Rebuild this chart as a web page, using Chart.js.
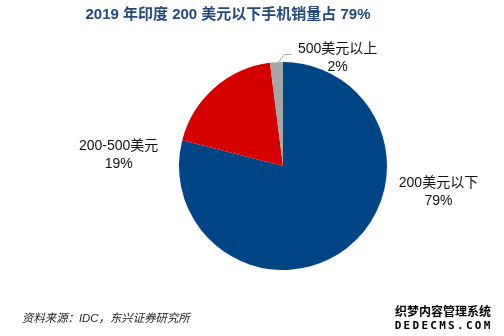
<!DOCTYPE html>
<html>
<head>
<meta charset="utf-8">
<script src="https://cdn.jsdelivr.net/npm/chart.js@4"></script>
<style>
html,body{margin:0;padding:0;background:#fff;}
#wrap{width:504px;height:336px;position:relative;}
canvas{display:block;}
</style>
</head>
<body>
<div id="wrap"><canvas id="c" width="504" height="336"></canvas></div>
<script>
const categories = ['200美元以下', '200-500美元', '500美元以上'];
const shares = [79, 19, 2];
const labelTexts = ['79%', '19%', '2%'];
const sliceColors = ['#004586', '#D50000', '#A6A6A6'];
const titleText = '2019 年印度 200 美元以下手机销量占 79%';
const sourceText = '资料来源：IDC，东兴证券研究所';

const CJK = '"Liberation Sans", Arial, "Noto Sans CJK SC", sans-serif';

// label anchor offsets relative to pie center, in units of radius
const labelOffsets = [
  {dx: 1.495, dy: 0.165},
  {dx: -1.58, dy: -0.195},
  {dx: 0.525, dy: -1.12}
];

const overlay = {
  id: 'overlay',
  afterDraw(chart) {
    const ctx = chart.ctx;
    const meta = chart.getDatasetMeta(0);
    const arc0 = meta.data[0];
    const cx = arc0.x, cy = arc0.y, r = arc0.outerRadius;
    ctx.save();
    // title
    ctx.fillStyle = '#24497A';
    ctx.font = 'bold 15px ' + CJK;
    ctx.textAlign = 'center';
    ctx.textBaseline = 'middle';
    ctx.fillText(titleText, 228, 15);

    // leader line for small slice
    const a2 = meta.data[2];
    const mid = (a2.startAngle + a2.endAngle) / 2;
    const sx = cx + Math.cos(mid) * (r - 2), sy = cy + Math.sin(mid) * (r - 2);
    const lx = cx + labelOffsets[2].dx * r, ly = cy + labelOffsets[2].dy * r;
    ctx.strokeStyle = '#A6A6A6';
    ctx.lineWidth = 1;
    ctx.beginPath();
    ctx.moveTo(sx, sy);
    ctx.lineTo(sx + 8, ly + 5);
    ctx.lineTo(sx + 15, ly + 5);
    ctx.stroke();

    // data labels
    ctx.fillStyle = '#111';
    ctx.font = '14px ' + CJK;
    categories.forEach((c, i) => {
      const x = cx + labelOffsets[i].dx * r;
      const y = cy + labelOffsets[i].dy * r;
      ctx.fillText(c, x, y);
      ctx.fillText(labelTexts[i], x, y + 18);
    });

    // source
    ctx.textAlign = 'left';
    ctx.fillStyle = '#222';
    ctx.font = 'italic 11.4px ' + CJK;
    ctx.fillText(sourceText, 22, 319);

    // watermark
    ctx.textAlign = 'center';
    ctx.lineJoin = 'round';
    ctx.font = 'bold 12px "Noto Sans CJK SC", sans-serif';
    ctx.strokeStyle = '#fff';
    ctx.lineWidth = 3;
    ctx.strokeText('织梦内容管理系统', 443, 311);
    ctx.fillStyle = '#000';
    ctx.fillText('织梦内容管理系统', 443, 311);
    const wm = 'DEDECMS.COM';
    ctx.font = 'bold 11px "DejaVu Sans Mono", monospace';
    const step = 8.9;
    for (let k = 0; k < wm.length; k++) {
      const x = 398 + k * step;
      ctx.strokeText(wm[k], x, 326);
      ctx.fillText(wm[k], x, 326);
    }
    ctx.restore();
  }
};

new Chart(document.getElementById('c'), {
  type: 'pie',
  data: {
    labels: categories,
    datasets: [{
      data: shares,
      backgroundColor: sliceColors,
      borderWidth: 0
    }]
  },
  options: {
    responsive: false,
    animation: false,
    layout: { padding: { left: 179, right: 117, top: 62, bottom: 66 } },
    plugins: { legend: { display: false }, tooltip: { enabled: false }, title: { display: false } }
  },
  plugins: [overlay]
});
</script>
</body>
</html>
